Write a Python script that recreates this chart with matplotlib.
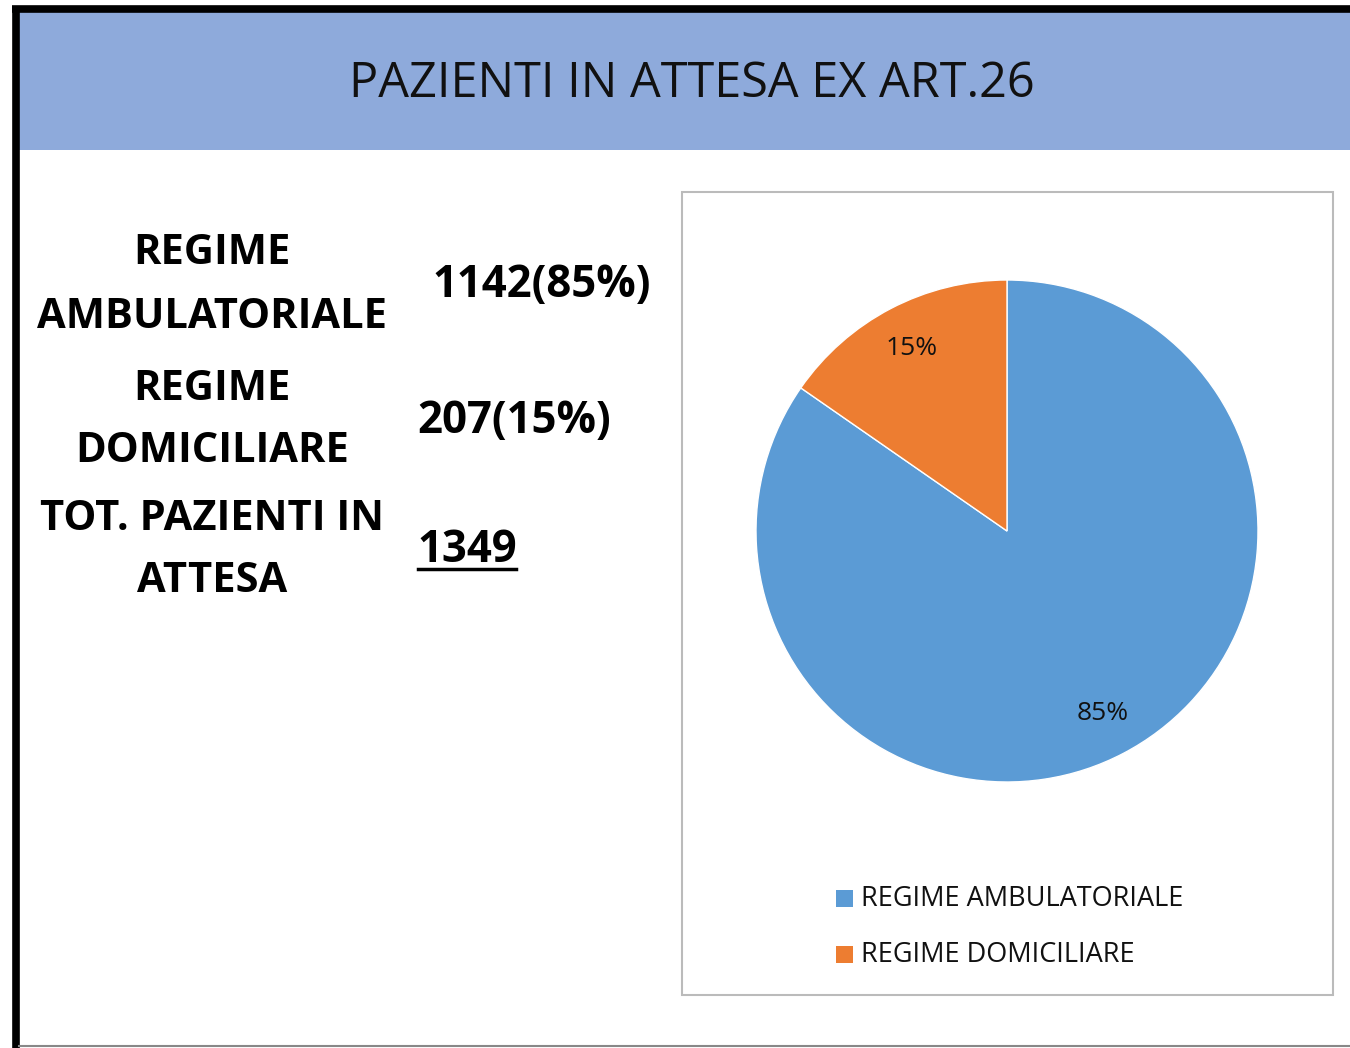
import numpy as np
import matplotlib
matplotlib.use("Agg")
import matplotlib.pyplot as plt
from matplotlib.patches import Rectangle

plt.rcParams['font.family'] = ['Open Sans', 'DejaVu Sans']

titolo = "PAZIENTI IN ATTESA EX ART.26"
categorie = ["REGIME AMBULATORIALE", "REGIME DOMICILIARE"]
pazienti = [1142, 207]
righe_sx = [["REGIME", "AMBULATORIALE"], ["REGIME", "DOMICILIARE"], ["TOT. PAZIENTI IN", "ATTESA"]]
valori_sx = ["1142(85%)", "207(15%)", "1349"]
colori = ["#5B9BD5", "#ED7D31"]

W, H = 1350, 1048
fig = plt.figure(figsize=(W / 100, H / 100), dpi=100)
bg = fig.add_axes([0, 0, 1, 1])
bg.set_xlim(0, W)
bg.set_ylim(H, 0)
bg.axis('off')

# cornice e intestazione
bg.add_patch(Rectangle((15, 12), W, 138, facecolor="#8EAADB", edgecolor="none"))
bg.plot([15.5, 15.5], [8, H], color="black", lw=5.5, solid_capstyle='butt')
bg.plot([12, W], [8.5, 8.5], color="black", lw=5.5, solid_capstyle='butt')
bg.plot([19, W], [1046, 1046], color="#888888", lw=1.5)
bg.text(692, 84, titolo, ha='center', va='center', fontsize=35, color="#111111")

# testo a sinistra
y_righe = [[254, 317], [389, 452], [519, 582]]
for righe, ys in zip(righe_sx, y_righe):
    for r, y in zip(righe, ys):
        bg.text(212, y, r, ha='center', va='center', fontsize=30, fontweight='bold', color="black")

x_val = [432, 417, 417]
y_val = [286, 422, 550]
for i, (v, x, y) in enumerate(zip(valori_sx, x_val, y_val)):
    t = bg.text(x, y, v, ha='left', va='center', fontsize=31.5, fontweight='bold', color="black")
    if i == 2:
        fig.canvas.draw()
        bb = t.get_window_extent().transformed(bg.transData.inverted())
        bg.plot([bb.x0 + 1, bb.x1 - 1], [y + 19, y + 19], color="black", lw=2.5)

# riquadro del grafico
bg.add_patch(Rectangle((682, 192), 651, 803, facecolor="white", edgecolor="#BBBBBB", lw=1.5))

cx, cy, r = 1007, 531, 251
ax = fig.add_axes([(cx - r) / W, (H - cy - r) / H, 2 * r / W, 2 * r / H])
wedges, texts, autotexts = ax.pie(pazienti, colors=colori, startangle=90, counterclock=False,
                                  autopct='%1.0f%%', pctdistance=0.82,
                                  wedgeprops=dict(edgecolor="white", linewidth=1),
                                  textprops=dict(fontsize=19, color="#111111"))
ax.set_xlim(-1, 1)
ax.set_ylim(-1, 1)
ax.set_aspect('equal')

# legenda
for i, (c, lab) in enumerate(zip(colori, categorie)):
    y = 899 + i * 56
    bg.add_patch(Rectangle((836, y - 9), 17, 17, facecolor=c, edgecolor="none"))
    bg.text(861, y, lab, ha='left', va='center', fontsize=19.5, color="#111111")

fig.savefig("out.png", dpi=100)
